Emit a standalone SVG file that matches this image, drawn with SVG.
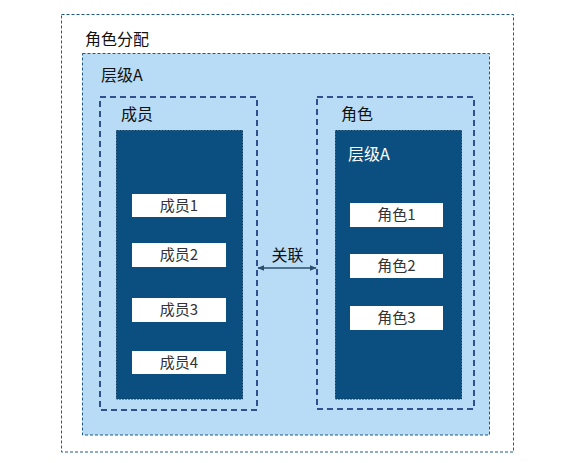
<svg xmlns="http://www.w3.org/2000/svg" width="578" height="463" viewBox="0 0 578 463">
<defs>
<style>
text{font-family:"Noto Sans CJK SC","Liberation Sans",sans-serif;font-size:16px;fill:#111}
.w{fill:#fff}
.it{fill:#333;text-anchor:middle;font-size:15px}
.outer{fill:#fff;stroke:#1d5a87;stroke-width:1;stroke-dasharray:3 2}
.lvl{fill:#b8dcf5;stroke:#1d5a87;stroke-width:1;stroke-dasharray:3 2}
.grp{fill:none;stroke:#2f4f8f;stroke-width:2;stroke-dasharray:6 4}
.dark{fill:#0b4f80;stroke:#0a3a60;stroke-width:1;stroke-dasharray:2 1}
.item{fill:#fff}
</style>
<marker id="ah" viewBox="0 0 10 10" refX="9" refY="5" markerWidth="7" markerHeight="7" orient="auto-start-reverse" markerUnits="userSpaceOnUse">
<path d="M0,1 L10,5 L0,9 Z" fill="#2a4f6e"/>
</marker>
</defs>
<g id="outer">
<rect class="outer" x="61.5" y="14.5" width="452" height="437.5"/>
<text x="85" y="45">角色分配</text>
</g>
<g id="levelA">
<rect class="lvl" x="82.5" y="53.5" width="407" height="381.5"/>
<text x="101" y="81">层级A</text>
</g>
<g id="members">
<rect class="grp" x="100" y="97" width="157" height="313"/>
<text x="121" y="120">成员</text>
<rect class="dark" x="116.5" y="130.5" width="126" height="268.5"/>
</g>
<g id="m1"><rect class="item" x="132" y="194" width="94" height="23"/><text class="it" x="179" y="211">成员1</text></g>
<g id="m2"><rect class="item" x="132" y="243" width="94" height="24"/><text class="it" x="179" y="260">成员2</text></g>
<g id="m3"><rect class="item" x="132" y="298" width="94" height="24"/><text class="it" x="179" y="315">成员3</text></g>
<g id="m4"><rect class="item" x="132" y="351" width="94" height="23"/><text class="it" x="179" y="368">成员4</text></g>
<g id="roles">
<rect class="grp" x="317" y="97" width="157" height="312"/>
<text x="341" y="120">角色</text>
<rect class="dark" x="335.5" y="130.5" width="126" height="268.5"/>
<text class="w" x="348" y="160">层级A</text>
</g>
<g id="r1"><rect class="item" x="350" y="203" width="93" height="24"/><text class="it" x="396.5" y="220">角色1</text></g>
<g id="r2"><rect class="item" x="350" y="254" width="93" height="24"/><text class="it" x="396.5" y="271">角色2</text></g>
<g id="r3"><rect class="item" x="350" y="306" width="93" height="24"/><text class="it" x="396.5" y="323">角色3</text></g>
<g id="connectors">
<line x1="258" y1="268" x2="316" y2="268" stroke="#2a4f6e" stroke-width="1.5" marker-start="url(#ah)" marker-end="url(#ah)"/>
<text x="287.5" y="261" text-anchor="middle">关联</text>
</g>
</svg>
